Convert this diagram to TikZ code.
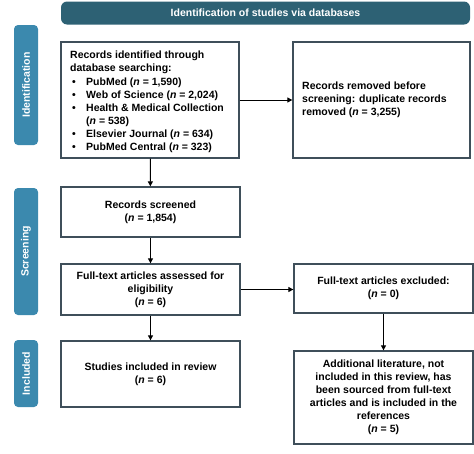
\documentclass[tikz,border=0pt]{standalone}
\usepackage{fontspec}
\setmainfont{Liberation Sans}
\usetikzlibrary{arrows.meta}
\definecolor{banner}{HTML}{2D6174}
\definecolor{sidebar}{HTML}{3B89AE}
\definecolor{boxline}{HTML}{3F4F5A}
\begin{document}
\begin{tikzpicture}[x=1pt,y=-1pt,
  every node/.style={font=\fontsize{10.5}{13.1}\selectfont\bfseries},
  box/.style={draw=boxline,line width=1.3pt,fill=white,inner sep=0pt,align=center},
  sidelab/.style={fill=sidebar,rounded corners=4pt,inner sep=0pt,minimum height=24pt,text=white,rotate=90},
  arr/.style={line width=1pt,-{Triangle[length=5pt,width=5pt]}}]
\useasboundingbox (0,0) rectangle (474,453);
\node[fill=banner,rounded corners=6pt,minimum width=409pt,minimum height=23pt,inner sep=0pt,text=white,font=\fontsize{10.5}{12}\selectfont\bfseries] (hdr) at (265.5,13) {Identification of studies via databases};
\node[sidelab,minimum width=120pt] (sid) at (26,85) {Identification};
\node[sidelab,minimum width=127pt] (ssc) at (26,251.5) {Screening};
\node[sidelab,minimum width=67pt] (sin) at (26,373.5) {Included};
\node[box,minimum width=178pt,minimum height=116pt] (b1) at (150,100) {};
\node[anchor=north west,align=left,inner sep=0pt] (t1) at (70,51) {Records identified through\\database searching:\\
\hspace*{2pt}\makebox[14pt][l]{\textbullet}PubMed (\textit{n} = 1,590)\\
\hspace*{2pt}\makebox[14pt][l]{\textbullet}Web of Science (\textit{n} = 2,024)\\
\hspace*{2pt}\makebox[14pt][l]{\textbullet}Health \& Medical Collection\\
\hspace*{16pt}(\textit{n} = 538)\\
\hspace*{2pt}\makebox[14pt][l]{\textbullet}Elsevier Journal (\textit{n} = 634)\\
\hspace*{2pt}\makebox[14pt][l]{\textbullet}PubMed Central (\textit{n} = 323)};
\node[box,minimum width=177pt,minimum height=116pt] (b2) at (381.5,100) {};
\node[anchor=west,align=left,inner sep=0pt] (t2) at (302,100) {Records removed before\\screening: duplicate records\\removed (\textit{n} = 3,255)};
\node[box,minimum width=179pt,minimum height=50pt] (b3) at (150.5,212) {Records screened\\(\textit{n} = 1,854)};
\node[box,minimum width=179pt,minimum height=51pt] (b4) at (150.5,289.5) {Full-text articles assessed for\\eligibility\\(\textit{n} = 6)};
\node[box,minimum width=179pt,minimum height=49pt] (b5) at (383.5,288.5) {Full-text articles excluded:\\(\textit{n} = 0)};
\node[box,minimum width=179pt,minimum height=66pt] (b6) at (150.5,374) {Studies included in review\\(\textit{n} = 6)};
\node[box,minimum width=179pt,minimum height=93pt] (b7) at (383.5,397.5) {Additional literature, not\\included in this review, has\\been sourced from full-text\\articles and is included in the\\references\\(\textit{n} = 5)};
\draw[arr] (b1) -- (b3);
\draw[arr] (b1.east) -- (b1.east -| b2.west);
\draw[arr] (b3) -- (b4);
\draw[arr] (b4.east) -- (b4.east -| b5.west);
\draw[arr] (b4) -- (b6);
\draw[arr] (b5.south) -- (b5.south |- b7.north);
\end{tikzpicture}
\end{document}
